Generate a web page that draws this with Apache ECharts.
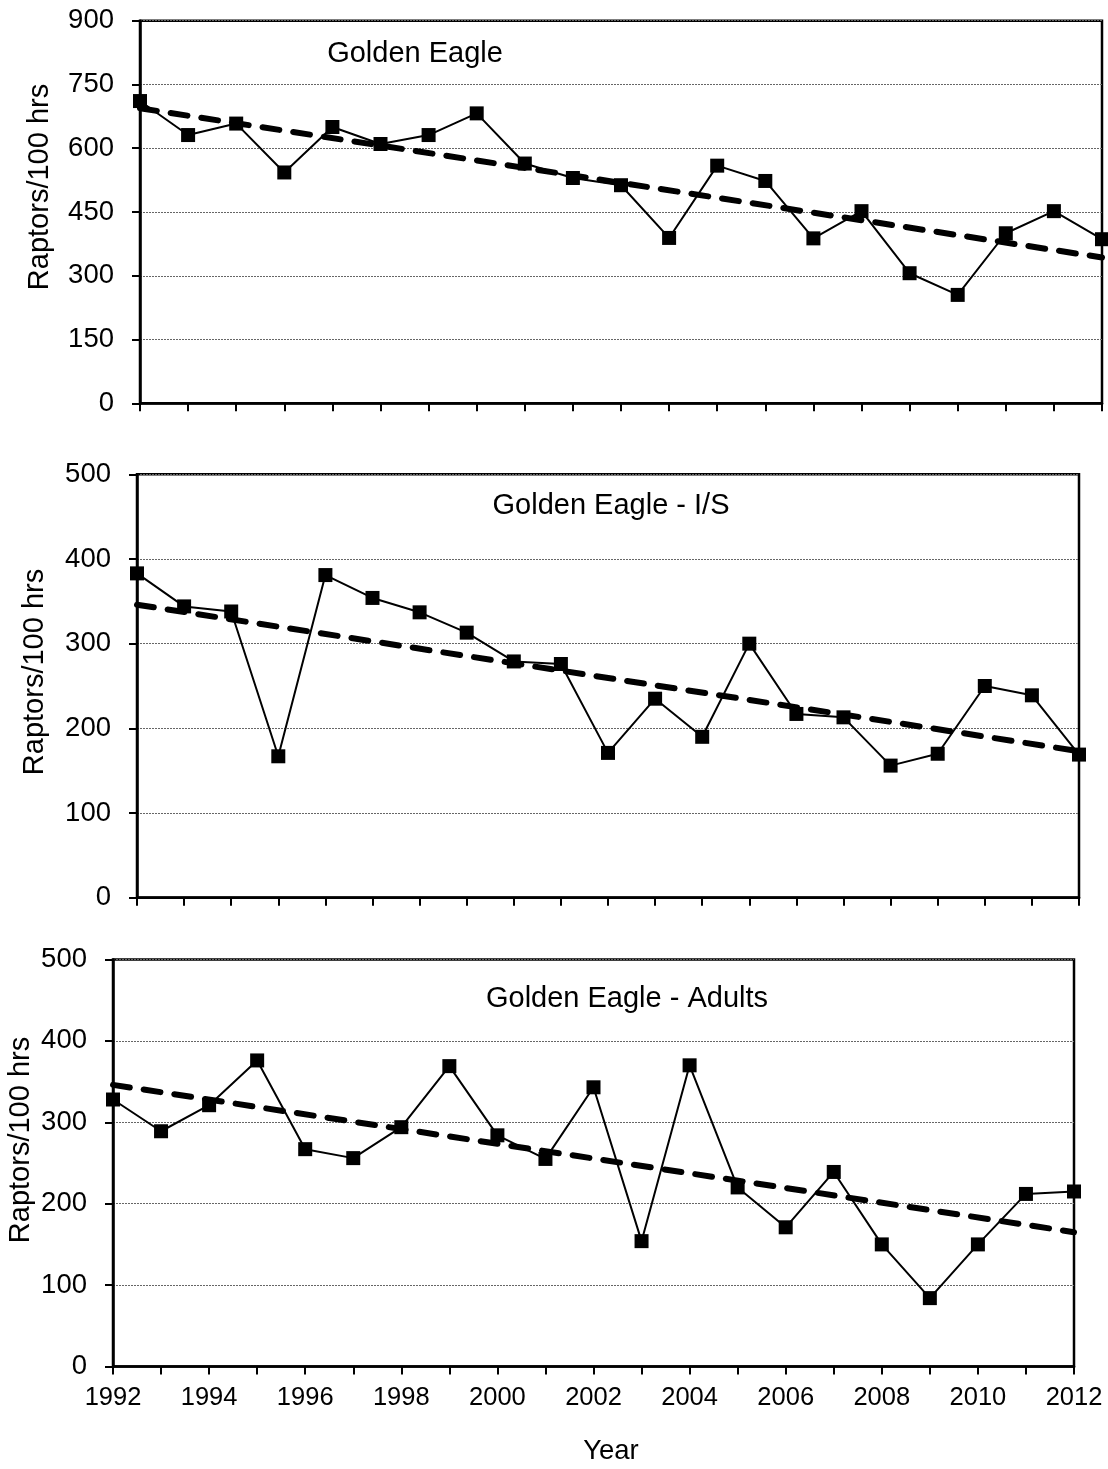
<!DOCTYPE html>
<html>
<head>
<meta charset="utf-8">
<script src="https://cdn.jsdelivr.net/npm/echarts@6/dist/echarts.min.js"></script>
<style>
html,body{margin:0;padding:0;background:#fff;}
#c{width:1108px;height:1469px;}
</style>
</head>
<body>
<div id="c"></div>
<script>
var years = [1992,1993,1994,1995,1996,1997,1998,1999,2000,2001,2002,2003,2004,2005,2006,2007,2008,2009,2010,2011,2012];
var allValues = [711,631,658,543,650,610,631,682,564,530,513,389,559,523,388,452,306,255,400,452,386];
var isValues  = [383,344,338,167,381,354,337,313,279,276,171,235,190,300,217,213,156,170,250,239,169];
var adultValues = [328,289,321,376,267,256,294,369,284,255,343,154,370,220,171,239,150,84,150,212,215];
var trendYears = [1992, 2012];
var allTrend = [694, 343];
var isTrend = [346, 173];
var adultTrend = [346, 165];
var titles = ['Golden Eagle', 'Golden Eagle - I/S', 'Golden Eagle - Adults'];
var yName = 'Raptors/100 hrs';
var xName = 'Year';

var FONT = "'Liberation Sans', Arial, sans-serif";

function pairs(xs, ys){ return xs.map(function(x,i){ return [x, ys[i]]; }); }

var grids = [
  {left:140, right:6, top:20.7, height:382.6},
  {left:137, right:29, top:474.3, height:423.4},
  {left:113, right:34, top:959.5, height:407}
];
var yMax = [900, 500, 500];
var yInt = [150, 100, 100];

var option = {
  backgroundColor:'#fff',
  animation:false,
  grid: grids.map(function(g){ return Object.assign({show:true, borderColor:'#000', borderWidth:2.5, backgroundColor:'transparent'}, g); }),
  xAxis: [0,1,2].map(function(i){
    return {
      type:'value', gridIndex:i, min:1992, max:2012, interval:1,
      axisLine:{show:true, onZero:false, lineStyle:{color:'#000', width:2.5}},
      axisTick:{show:true, inside:false, length:8, lineStyle:{color:'#000', width:2}},
      splitLine:{show:false},
      axisLabel:{show: i===2, margin:18, fontSize:25.5, color:'#000', fontFamily:FONT,
        formatter:function(v){ return (v % 2 === 0) ? String(v) : ''; }}
    };
  }),
  yAxis: [0,1,2].map(function(i){
    return {
      type:'value', gridIndex:i, min:0, max:yMax[i], interval:yInt[i],
      axisLine:{show:true, lineStyle:{color:'#000', width:2.5}},
      axisTick:{show:true, inside:false, length:8, lineStyle:{color:'#000', width:2}},
      splitLine:{show:true, lineStyle:{color:'#666', width:1, type:[2,1]}},
      axisLabel:{margin:26, fontSize:27.5, color:'#000', fontFamily:FONT}
    };
  }),
  series: [
    {type:'line', xAxisIndex:0, yAxisIndex:0, data:pairs(years, allValues), symbol:'rect', symbolSize:14, clip:false,
      lineStyle:{color:'#000', width:2}, itemStyle:{color:'#000'}, z:2},
    {type:'line', xAxisIndex:0, yAxisIndex:0, data:pairs(trendYears, allTrend), symbol:'none', clip:false,
      lineStyle:{color:'#000', width:6, type:[17,14], cap:'round'}, z:3},
    {type:'line', xAxisIndex:1, yAxisIndex:1, data:pairs(years, isValues), symbol:'rect', symbolSize:14, clip:false,
      lineStyle:{color:'#000', width:2}, itemStyle:{color:'#000'}, z:2},
    {type:'line', xAxisIndex:1, yAxisIndex:1, data:pairs(trendYears, isTrend), symbol:'none', clip:false,
      lineStyle:{color:'#000', width:6, type:[17,14], cap:'round'}, z:3},
    {type:'line', xAxisIndex:2, yAxisIndex:2, data:pairs(years, adultValues), symbol:'rect', symbolSize:14, clip:false,
      lineStyle:{color:'#000', width:2}, itemStyle:{color:'#000'}, z:2},
    {type:'line', xAxisIndex:2, yAxisIndex:2, data:pairs(trendYears, adultTrend), symbol:'none', clip:false,
      lineStyle:{color:'#000', width:6, type:[17,14], cap:'round'}, z:3}
  ],
  graphic: [
    {type:'text', x:415, y:54, style:{text:titles[0], font:'29px '+FONT, fill:'#000', textAlign:'center', textVerticalAlign:'middle'}},
    {type:'text', x:611, y:506, style:{text:titles[1], font:'29px '+FONT, fill:'#000', textAlign:'center', textVerticalAlign:'middle'}},
    {type:'text', x:627, y:999, style:{text:titles[2], font:'29px '+FONT, fill:'#000', textAlign:'center', textVerticalAlign:'middle'}},
    {type:'text', x:40, y:187, rotation:Math.PI/2, style:{text:yName, font:'29px '+FONT, fill:'#000', textAlign:'center', textVerticalAlign:'middle'}},
    {type:'text', x:35, y:672, rotation:Math.PI/2, style:{text:yName, font:'29px '+FONT, fill:'#000', textAlign:'center', textVerticalAlign:'middle'}},
    {type:'text', x:21, y:1140, rotation:Math.PI/2, style:{text:yName, font:'29px '+FONT, fill:'#000', textAlign:'center', textVerticalAlign:'middle'}},
    {type:'text', x:611, y:1451, style:{text:xName, font:'27.5px '+FONT, fill:'#000', textAlign:'center', textVerticalAlign:'middle'}}
  ]
};

var chart = echarts.init(document.getElementById('c'), null, {renderer:'canvas'});
chart.setOption(option);
</script>
</body>
</html>
